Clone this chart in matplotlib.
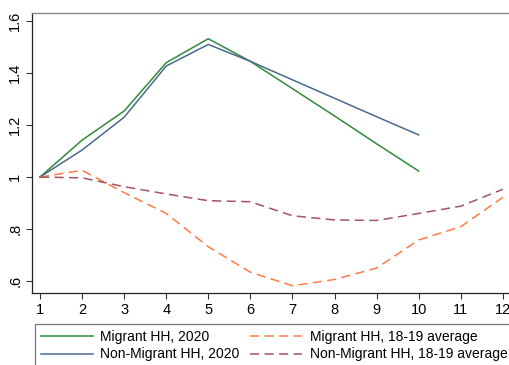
import numpy as np
import matplotlib.pyplot as plt

plt.rcParams['font.family'] = ['Liberation Sans', 'DejaVu Sans']

# months
months = [1, 2, 3, 4, 5, 6, 7, 8, 9, 10, 11, 12]
months_2020 = [1, 2, 3, 4, 5, 6, 7, 8, 9, 10]

# index values
migrant_2020 = [1.0, 1.142, 1.254, 1.44, 1.532, 1.445, 1.34, 1.235, 1.128, 1.023]
nonmigrant_2020 = [1.0, 1.104, 1.23, 1.427, 1.51, 1.445, 1.374, 1.303, 1.232, 1.162]
migrant_avg = [1.0, 1.026, 0.94, 0.86, 0.732, 0.634, 0.582, 0.606, 0.65, 0.758, 0.809, 0.922]
nonmigrant_avg = [1.0, 0.997, 0.963, 0.935, 0.909, 0.905, 0.851, 0.835, 0.833, 0.86, 0.888, 0.953]

ytick_vals = [0.6, 0.8, 1.0, 1.2, 1.4, 1.6]
ytick_labels = ['.6', '.8', '1', '1.2', '1.4', '1.6']

W, H = 510, 365
fig = plt.figure(figsize=(W / 100, H / 100), dpi=100)
ax = fig.add_axes([32 / W, (H - 293) / H, (W - 32) / W, 280 / H])

c_green = '#2e8b3a'
c_blue = '#4a6a8f'
c_orange = '#ff7a45'
c_maroon = '#a5545c'

ax.plot(months_2020, migrant_2020, color=c_green, lw=1.1, label='Migrant HH, 2020')
ax.plot(months_2020, nonmigrant_2020, color=c_blue, lw=1.1, label='Non-Migrant HH, 2020')
ax.plot(months, migrant_avg, color=c_orange, lw=1.1, dashes=(6, 3.5),
        label='Migrant HH, 18-19 average')
ax.plot(months, nonmigrant_avg, color=c_maroon, lw=1.1, dashes=(6, 3.5),
        label='Non-Migrant HH, 18-19 average')

ax.set_xlim(0.81, 12.17)
ax.set_ylim(0.554, 1.631)
ax.set_xticks(months)
ax.set_yticks(ytick_vals)
ax.set_yticklabels(ytick_labels, rotation=90, va='center')
ax.tick_params(labelsize=10.5, length=4, width=0.8, color='#333333', pad=3)
ax.spines['right'].set_visible(False)
for s in ['left', 'bottom']:
    ax.spines[s].set_color('#222222')
    ax.spines[s].set_linewidth(0.9)
ax.spines['top'].set_color('#888888')
ax.spines['top'].set_linewidth(1.0)

leg = fig.legend(loc='upper left', bbox_to_anchor=(35 / W, 1 - 324 / H),
                 ncol=2, fontsize=10, frameon=True, fancybox=False,
                 edgecolor='#555555', handlelength=3.75, columnspacing=0.75,
                 borderaxespad=0, borderpad=0.4, labelspacing=0.28,
                 handletextpad=0.55)
leg.get_frame().set_linewidth(0.9)

plt.savefig('out.png', dpi=100)
